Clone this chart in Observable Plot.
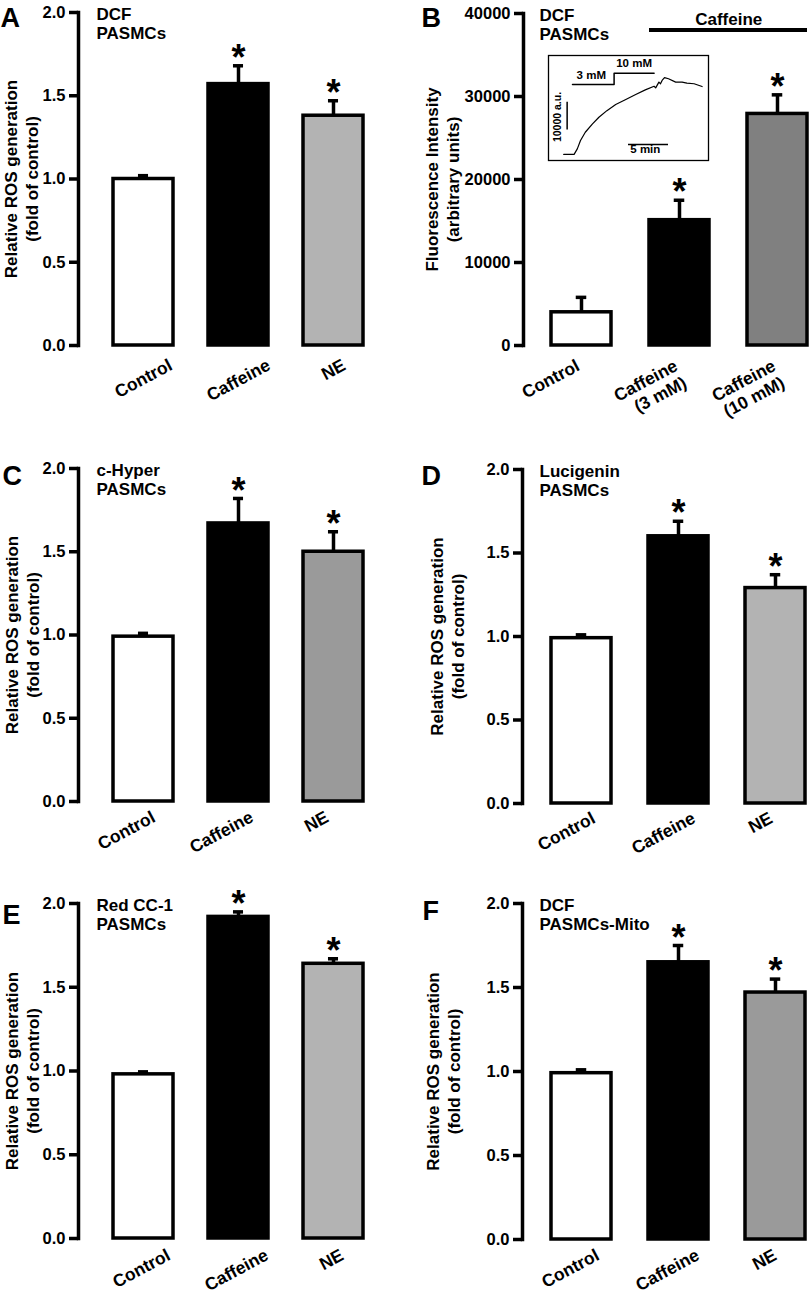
<!DOCTYPE html>
<html><head><meta charset="utf-8">
<script src="https://cdn.jsdelivr.net/npm/d3@7"></script>
<script src="https://cdn.jsdelivr.net/npm/@observablehq/plot@0.6"></script>
<style>
html,body{margin:0;padding:0;background:#fff;}
#fig{position:relative;width:812px;height:1294px;overflow:hidden;background:#fff;}
</style></head><body><div id="fig"></div>
<script>
const FONT = '"Liberation Sans", Arial, Helvetica, sans-serif';

// ---------------- Data ----------------
const categories = ["Control", "Caffeine", "NE"];
const categoriesB = ["Control", "Caffeine\n(3 mM)", "Caffeine\n(10 mM)"];
const significant = [false, true, true];

const meanA = [1.00, 1.57, 1.38]; const errA = [0.02, 0.11, 0.09];
const meanB = [4000, 15100, 27900]; const errB = [1800, 2400, 2300];
const meanC = [0.99, 1.67, 1.50]; const errC = [0.02, 0.15, 0.12];
const meanD = [0.99, 1.60, 1.29]; const errD = [0.02, 0.09, 0.08];
const meanE = [0.98, 1.92, 1.64]; const errE = [0.015, 0.03, 0.03];
const meanF = [0.99, 1.65, 1.47]; const errF = [0.02, 0.10, 0.08];

const ticksRel = [0, 0.5, 1.0, 1.5, 2.0];
const ticksB = [0, 10000, 20000, 30000, 40000];

const titlesText = {A: "DCF\nPASMCs", B: "DCF\nPASMCs", C: "c-Hyper\nPASMCs", D: "Lucigenin\nPASMCs", E: "Red CC-1\nPASMCs", F: "DCF\nPASMCs-Mito"};
const yLabelRel = "Relative ROS generation\n(fold of control)";
const yLabelB = "Fluorescence Intensity\n(arbitrary units)";
const caffeineLabel = "Caffeine";
const caffeineLevel = 38000;

// inset trace (B): time in min, fluorescence in a.u.
const traceMin = [1.9, 3.2, 3.6, 4.0, 4.6, 5.5, 6.3, 7.3, 8.4, 9.6, 10.9, 12.1, 13.2, 13.4, 13.8, 14.0, 14.2, 14.5, 15.0, 15.9, 16.7, 17.3, 18.2, 19.2];
const traceAU  = [2200, 2200, 4200, 7200, 10200, 13200, 15600, 18000, 20200, 21900, 23800, 25500, 26800, 26200, 28300, 27700, 28900, 29900, 29500, 28300, 28300, 27900, 27700, 26700];
const stepMin = [3.0, 8.2, 8.2, 13.2];
const stepAU  = [27400, 27400, 31500, 31500];
const scaleBarAU = [11000, 21000];   // 10000 a.u.
const scaleBarMin = [10, 15];        // 5 min

// ---------------- Layout ----------------
const canvas = document.createElement("canvas");
const ctx = canvas.getContext("2d");
const LABEL_SIZE = 17.5;
function measure(txt, size) {
  ctx.font = `bold ${size}px ${FONT}`;
  return Math.max(...txt.split("\n").map(s => ctx.measureText(s).width));
}
const ROT = 28, rad = ROT * Math.PI / 180;
const LETTER_SIZE = 27;

const panels = [
  {id: "A", left: 0, top: 0, h: 430, mt: 12, ph: 333, ml: 78, mr: 8, pi: 0.364, po: 0.352, align: 0.5,
   cats: categories, mean: meanA, err: errA, fills: ["#ffffff", "#000000", "#b3b3b3"], ticks: ticksRel, fmt: ".1f", domain: [0, 2],
   titleDx: 18, letterDx: -78, letterBase: 14, ylabel: yLabelRel, ylabelDx: -57.5, mode: "center", labelDx: 0, labelTop: 13},
  {id: "B", left: 406, top: 0, h: 430, mt: 13, ph: 332, ml: 117, mr: 0, pi: 0.386, po: 0.16, align: 0.84,
   cats: categoriesB, mean: meanB, err: errB, fills: ["#ffffff", "#000000", "#808080"], ticks: ticksB, fmt: "d", domain: [0, 40000],
   titleDx: 16, letterDx: -102, letterBase: 13, ylabel: yLabelB, ylabelDx: -82, mode: "end", labelDx: -7, labelTop: 12},
  {id: "C", left: 0, top: 430, h: 430, mt: 38, ph: 333, ml: 78, mr: 8, pi: 0.364, po: 0.352, align: 0.5,
   cats: categories, mean: meanC, err: errC, fills: ["#ffffff", "#000000", "#9a9a9a"], ticks: ticksRel, fmt: ".1f", domain: [0, 2],
   titleDx: 18, letterDx: -76, letterBase: 16, ylabel: yLabelRel, ylabelDx: -57, mode: "center", labelDx: -17, labelTop: 9},
  {id: "D", left: 406, top: 430, h: 430, mt: 39, ph: 334, ml: 116, mr: 0, pi: 0.379, po: 0.177, align: 0.81,
   cats: categories, mean: meanD, err: errD, fills: ["#ffffff", "#000000", "#b3b3b3"], ticks: ticksRel, fmt: ".1f", domain: [0, 2],
   titleDx: 17, letterDx: -101, letterBase: 15, ylabel: yLabelRel, ylabelDx: -76, mode: "center", labelDx: -15, labelTop: 8},
  {id: "E", left: 0, top: 860, h: 434, mt: 43, ph: 335, ml: 78, mr: 8, pi: 0.364, po: 0.352, align: 0.5,
   cats: categories, mean: meanE, err: errE, fills: ["#ffffff", "#000000", "#b3b3b3"], ticks: ticksRel, fmt: ".1f", domain: [0, 2],
   titleDx: 18, letterDx: -76, letterBase: 20, ylabel: yLabelRel, ylabelDx: -56.5, mode: "center", labelDx: -2, labelTop: 10},
  {id: "F", left: 406, top: 860, h: 434, mt: 43, ph: 336, ml: 116, mr: 0, pi: 0.379, po: 0.177, align: 0.81,
   cats: categories, mean: meanF, err: errF, fills: ["#ffffff", "#000000", "#9a9a9a"], ticks: ticksRel, fmt: ".1f", domain: [0, 2],
   titleDx: 17, letterDx: -100, letterBase: 16, ylabel: yLabelRel, ylabelDx: -80, mode: "center", labelDx: -11, labelTop: 9}
];

const fig = document.getElementById("fig");
const W = 406;

function place(svg, left, top) {
  svg.style.position = "absolute";
  svg.style.left = left + "px";
  svg.style.top = top + "px";
  svg.style.overflow = "visible";
  svg.style.maxWidth = "none";
  fig.appendChild(svg);
}

for (const p of panels) {
  const data = p.cats.map((c, i) => ({cat: c, mean: p.mean[i], hi: p.mean[i] + p.err[i], sig: significant[i]}));
  const band = d3.scaleBand().domain(p.cats).range([p.ml, W - p.mr]).paddingInner(p.pi).paddingOuter(p.po).align(p.align);
  const bw = band.bandwidth(), step = band.step();
  const capInset = (bw - 11) / 2;

  const labelMarks = p.cats.map(c => {
    if (p.mode === "end") {
      return Plot.text([c], {x: d => d, frameAnchor: "bottom", text: d => d, rotate: -ROT, textAnchor: "end", lineAnchor: "top",
        lineHeight: 1.1, fontSize: LABEL_SIZE, fontWeight: "bold", dx: p.labelDx, dy: p.labelTop});
    }
    const L = measure(c, LABEL_SIZE);
    const half = (L * Math.sin(rad) + 12.5 * Math.cos(rad)) / 2;
    return Plot.text([c], {x: d => d, frameAnchor: "bottom", text: d => d, rotate: -ROT, textAnchor: "middle", lineAnchor: "middle",
      fontSize: LABEL_SIZE, fontWeight: "bold", dx: p.labelDx, dy: p.labelTop + half});
  });

  const marks = [
    Plot.frame({anchor: "left", stroke: "black", strokeWidth: 3.5}),
    Plot.axisY({ticks: p.ticks, tickFormat: d3.format(p.fmt), tickSize: 9, tickPadding: 4, strokeWidth: 3.5,
      fontSize: 16.5, fontWeight: "bold", label: null}),
    Plot.ruleX(data, {x: "cat", y1: "mean", y2: "hi", stroke: "black", strokeWidth: 3.5}),
    Plot.tickY(data, {x: "cat", y: "hi", stroke: "black", strokeWidth: 3.5, insetLeft: capInset, insetRight: capInset}),
    Plot.barY(data, {x: "cat", y: "mean", fill: "cat", stroke: "black", strokeWidth: 3.5}),
    Plot.text(data.filter(d => d.sig), {x: "cat", y: "hi", text: () => "*", fontSize: 36, fontWeight: "bold", lineAnchor: "middle", dy: -7.5}),
    Plot.text([titlesText[p.id]], {frameAnchor: "top-left", text: d => d, textAnchor: "start", lineAnchor: "top", fontSize: 17,
      fontWeight: "bold", lineHeight: 1.09, dx: p.titleDx, dy: -5.6}),
    Plot.text([p.id], {frameAnchor: "top-left", text: d => d, textAnchor: "start", lineAnchor: "top", fontSize: LETTER_SIZE,
      fontWeight: "bold", dx: p.letterDx, dy: p.letterBase - 0.71 * LETTER_SIZE}),
    Plot.text([p.ylabel], {frameAnchor: "left", text: d => d, rotate: -90, textAnchor: "middle", lineAnchor: "middle",
      fontSize: 17, fontWeight: "bold", lineHeight: 1.22, dx: p.ylabelDx}),
    ...labelMarks
  ];

  if (p.id === "B") {
    marks.push(
      Plot.ruleY([caffeineLevel], {y: d => d, x1: () => categoriesB[1], x2: () => categoriesB[2], stroke: "black", strokeWidth: 4}),
      Plot.text([caffeineLabel], {x: () => categoriesB[1], y: () => caffeineLevel, text: d => d, dx: step / 2, dy: -10.4,
        lineAnchor: "middle", fontSize: 17, fontWeight: "bold"})
    );
  }

  const plot = Plot.plot({
    width: W, height: p.h,
    marginLeft: p.ml, marginRight: p.mr, marginTop: p.mt, marginBottom: p.h - p.mt - p.ph,
    style: {fontFamily: FONT, fontWeight: "bold", fontSize: "16px", color: "black", background: "transparent", overflow: "visible"},
    x: {domain: p.cats, paddingInner: p.pi, paddingOuter: p.po, align: p.align, axis: null},
    y: {domain: p.domain, axis: null},
    color: {type: "ordinal", domain: p.cats, range: p.fills},
    marks
  });
  place(plot, p.left, p.top);
}

// ---------------- Inset in panel B ----------------
const trace = traceMin.map((t, i) => ({t, v: traceAU[i]}));
const stim = stepMin.map((t, i) => ({t, v: stepAU[i]}));
const insetNotes = [
  {t: 5.35, v: 30600, s: "3 mM"},
  {t: 10.7, v: 34900, s: "10 mM"},
  {t: 12.1, v: 3900, s: "5 min"}
];
const inset = Plot.plot({
  width: 160, height: 105, margin: 0,
  style: {fontFamily: FONT, fontWeight: "bold", fontSize: "11px", background: "white", overflow: "visible"},
  x: {domain: [0, 20], axis: null},
  y: {domain: [0, 37900], axis: null},
  marks: [
    Plot.frame({stroke: "black", strokeWidth: 1.3}),
    Plot.line(trace, {x: "t", y: "v", stroke: "black", strokeWidth: 1.2}),
    Plot.line(stim, {x: "t", y: "v", stroke: "black", strokeWidth: 1.5}),
    Plot.ruleX([2.33], {x: d => d, y1: scaleBarAU[0], y2: scaleBarAU[1], stroke: "black", strokeWidth: 1.5}),
    Plot.ruleY([5800], {y: d => d, x1: scaleBarMin[0], x2: scaleBarMin[1], stroke: "black", strokeWidth: 1.5}),
    Plot.text(insetNotes, {x: "t", y: "v", text: "s", fontSize: 11.5, fontWeight: "bold", lineAnchor: "middle"}),
    Plot.text(["10000 a.u."], {x: () => 1.1, y: () => 15700, text: d => d, rotate: -90, fontSize: 10.5, fontWeight: "bold", lineAnchor: "middle"})
  ]
});
place(inset, 548, 55);
</script>
</body></html>
